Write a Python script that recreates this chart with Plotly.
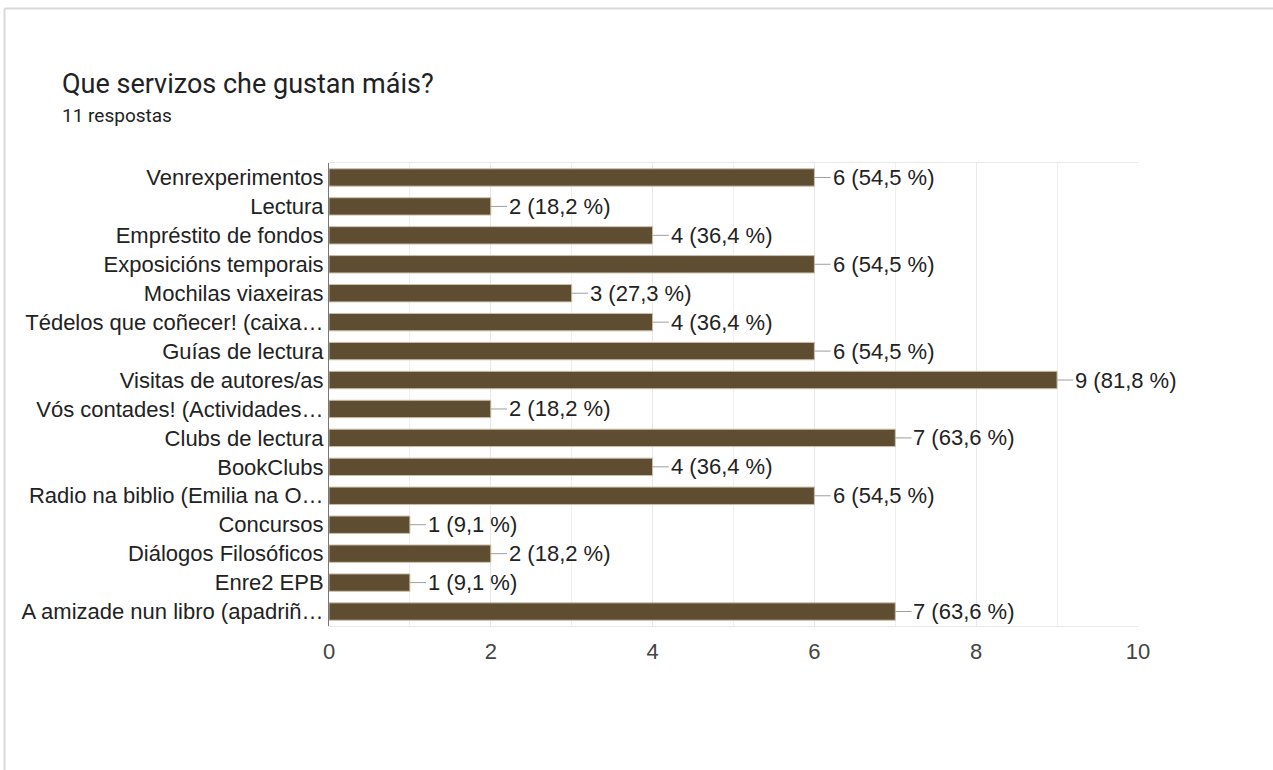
import plotly.graph_objects as go

categories = [
    "Venrexperimentos",
    "Lectura",
    "Empréstito de fondos",
    "Exposicións temporais",
    "Mochilas viaxeiras",
    "Tédelos que coñecer! (caixa…",
    "Guías de lectura",
    "Visitas de autores/as",
    "Vós contades! (Actividades…",
    "Clubs de lectura",
    "BookClubs",
    "Radio na biblio (Emilia na O…",
    "Concursos",
    "Diálogos Filosóficos",
    "Enre2 EPB",
    "A amizade nun libro (apadriñ…",
]
counts = [6, 2, 4, 6, 3, 4, 6, 9, 2, 7, 4, 6, 1, 2, 1, 7]
percents = ["54,5", "18,2", "36,4", "54,5", "27,3", "36,4", "54,5", "81,8",
            "18,2", "63,6", "36,4", "54,5", "9,1", "18,2", "9,1", "63,6"]
x_ticks = [0, 2, 4, 6, 8, 10]

title_text = "Que servizos che gustan máis?"
subtitle_text = "11 respostas"

W, H = 1273, 770
L, R, T, B = 329, W - 1138, 163, H - 626
pw, ph = W - L - R, H - T - B

FONT = "Liberation Sans, Arial, sans-serif"
LABEL_SIZE = 22

fig = go.Figure()
fig.add_trace(go.Bar(
    x=counts, y=categories, orientation="h",
    marker=dict(color="#5e4d30", line=dict(color="#c9bfaa", width=1)),
    width=0.6, hoverinfo="skip",
))

# leader lines
lx, ly = [], []
for c, cat in zip(counts, categories):
    lx += [c, c + 0.2, None]
    ly += [cat, cat, None]
fig.add_trace(go.Scatter(x=lx, y=ly, mode="lines",
                         line=dict(color="#9e9e9e", width=1),
                         hoverinfo="skip", showlegend=False))

for c, p, cat in zip(counts, percents, categories):
    fig.add_annotation(x=c + 0.2, y=cat, xref="x", yref="y",
                       text=f"{c} ({p} %)", showarrow=False,
                       xanchor="left", yanchor="middle", xshift=0,
                       font=dict(family=FONT, size=LABEL_SIZE, color="#222222"))

def px2paper_x(px):
    return (px - L) / pw

def px2paper_y(py):
    return (H - B - py) / ph

# card border (top and left edges)
fig.add_shape(type="line", xref="paper", yref="paper",
              x0=px2paper_x(4.5), x1=px2paper_x(1290),
              y0=px2paper_y(8.5), y1=px2paper_y(8.5),
              line=dict(color="#d9d9d9", width=2))
fig.add_shape(type="line", xref="paper", yref="paper",
              x0=px2paper_x(4.5), x1=px2paper_x(4.5),
              y0=px2paper_y(8.5), y1=px2paper_y(790),
              line=dict(color="#d9d9d9", width=2))

fig.add_annotation(xref="paper", yref="paper",
                   x=px2paper_x(60), y=px2paper_y(84),
                   text=title_text, showarrow=False,
                   xanchor="left", yanchor="middle",
                   font=dict(family="Roboto, sans-serif", size=27, color="#202124"))
fig.add_annotation(xref="paper", yref="paper",
                   x=px2paper_x(60), y=px2paper_y(115),
                   text=subtitle_text, showarrow=False,
                   xanchor="left", yanchor="middle",
                   font=dict(family="Roboto, sans-serif", size=19, color="#202124"))

fig.update_layout(
    width=W, height=H,
    margin=dict(l=L, r=R, t=T, b=B, autoexpand=False),
    paper_bgcolor="white", plot_bgcolor="white",
    showlegend=False,
    font=dict(family=FONT, size=LABEL_SIZE, color="#222222"),
)
fig.update_xaxes(
    range=[0, 10], tickvals=x_ticks, ticktext=[str(v) for v in x_ticks],
    showgrid=True, gridcolor="#e8e8e8", gridwidth=1,
    minor=dict(dtick=1, showgrid=True, gridcolor="#efefef"),
    zeroline=False, showline=True, linecolor="#e8e8e8", mirror=True,
    ticks="", ticklabelstandoff=6,
    tickfont=dict(family=FONT, size=LABEL_SIZE, color="#444444"),
    fixedrange=True,
)
fig.update_yaxes(
    range=[len(categories) - 0.5, -0.5], autorange=False,
    showgrid=False, zeroline=False,
    showline=True, linecolor="#777777", linewidth=1,
    ticks="", ticklabelstandoff=0,
    tickfont=dict(family=FONT, size=LABEL_SIZE, color="#222222"),
    fixedrange=True,
)

fig.write_html("out.html", config={"displayModeBar": False},
               post_script="document.body.style.margin='0';")
